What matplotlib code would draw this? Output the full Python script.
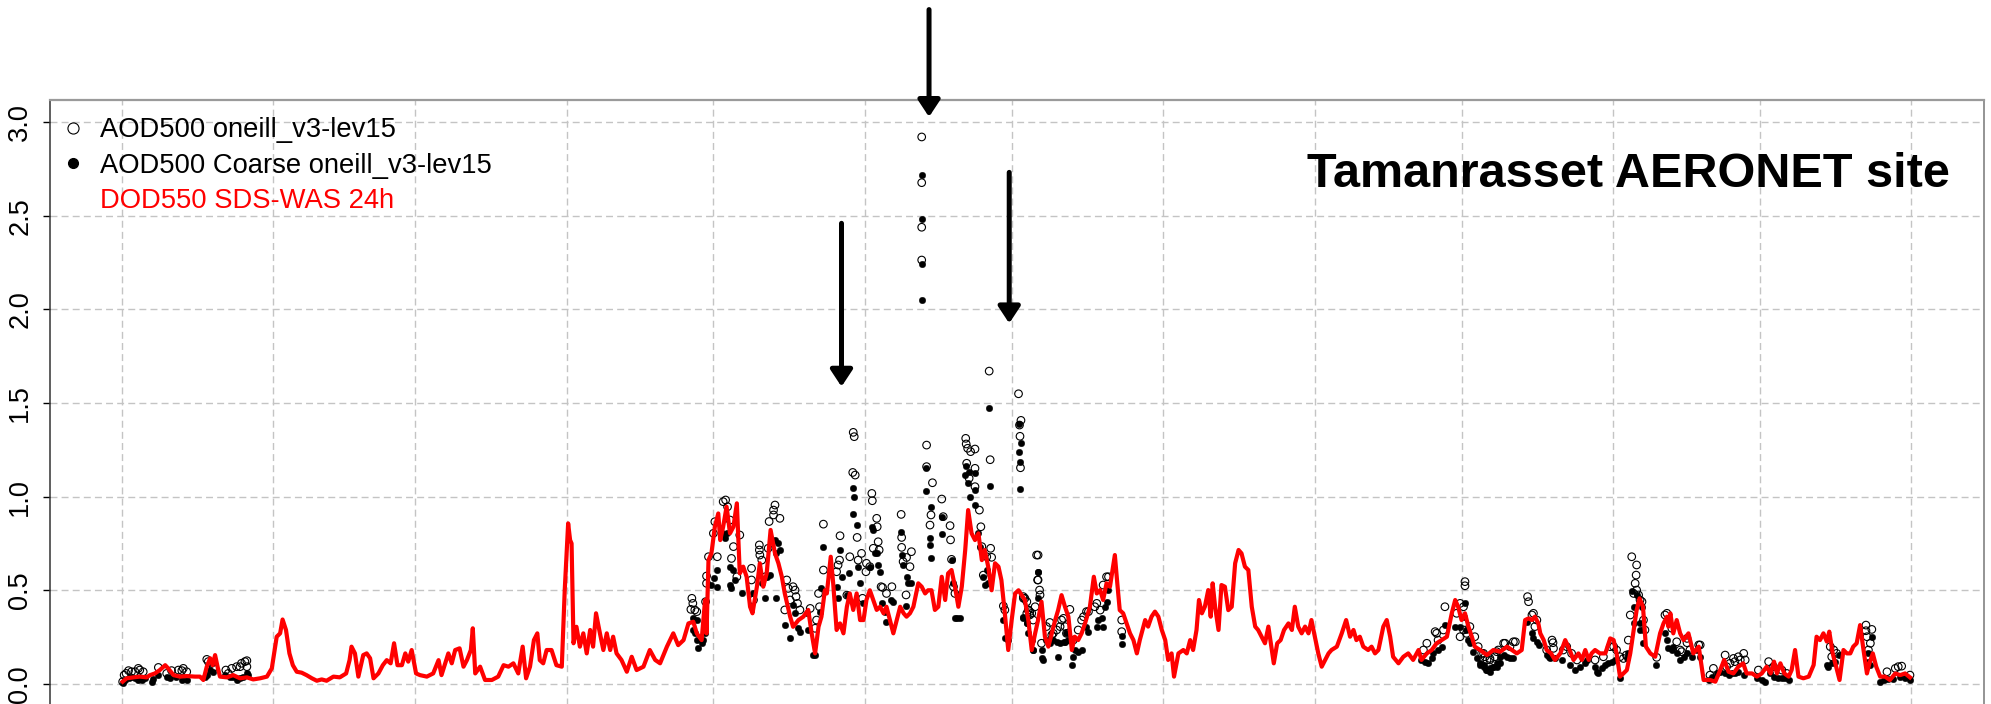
import numpy as np
import pandas as pd
import matplotlib
matplotlib.use("Agg")
import matplotlib.pyplot as plt
import matplotlib.dates as mdates
from matplotlib.lines import Line2D
from matplotlib import font_manager as fm

# ---------------- data (days since 2020-01-01, values) ----------------
dod_day = [0.2,1.0,2.4,3.7,5.1,5.8,6.8,7.8,8.9,9.5,10.6,11.9,13.3,15.0,16.0,16.7,17.4,18.1,18.6,19.1,19.6,20.1,
           21.5,22.8,24.2,25.6,26.9,28.3,29.7,30.7,31.7,32.4,32.9,33.6,34.3,35.0,35.8,36.8,37.8,38.9,39.9,40.9,
           41.9,43.3,44.6,45.9,46.6,47.0,47.7,48.4,49.4,50.1,50.8,51.5,52.5,53.4,54.2,55.0,55.7,56.4,57.3,58.0,
           58.6,59.3,60.2,61.0,62.4,63.7,64.8,65.4,66.8,67.5,68.2,69.1,69.9,70.6,71.4,71.8,72.3,73.3,74.3,75.7,
           77.0,78.1,79.1,80.1,81.1,82.0,82.7,83.5,84.3,85.0,85.5,86.2,86.9,87.9,88.9,90.0,
           90.6,91.3,91.7,92.0,92.4,93.0,93.7,94.4,95.1,95.8,96.4,97.0,97.8,98.5,99.2,99.9,100.5,101.2,102.2,
           103.3,104.3,105.3,106.7,108.0,109.1,110.1,111.5,112.8,113.8,114.9,115.9,116.9,117.6,118.6,119.3,
           119.6,120.0,120.6,121.3,122.0,122.4,123.0,123.7,124.4,125.1,125.8,126.4,127.1,127.8,128.5,129.0,
           129.9,130.5,131.2,131.9,132.7,133.6,134.3,135.0,135.6,136.7,137.3,138.4,139.4,140.4,141.1,141.8,
           142.5,143.1,143.8,144.2,145.0,145.5,146.2,146.9,147.6,148.3,148.9,149.6,150.3,151.0,151.7,152.3,
           153.0,153.7,154.4,155.1,155.8,156.4,157.1,157.8,158.5,159.2,159.9,160.5,161.2,161.9,162.9,163.6,
           164.3,164.9,165.6,166.3,167.0,167.7,168.4,169.0,169.7,170.4,171.1,171.8,172.5,173.1,173.8,174.5,
           175.2,175.9,176.5,177.2,177.9,178.6,179.3,179.9,180.6,181.3,182.0,182.7,183.4,
           184.7,185.4,186.1,186.8,187.4,188.1,188.8,189.5,190.2,190.9,191.5,192.2,192.9,193.6,194.3,194.9,
           195.6,196.3,197.0,198.0,198.8,199.4,200.1,200.7,201.4,202.1,203.1,203.6,204.1,204.8,205.5,206.2,
           206.9,207.6,208.2,209.3,209.9,210.6,211.3,212.0,212.7,213.4,214.0,214.7,215.2,216.1,217.1,217.8,
           218.5,219.1,219.8,220.3,220.9,221.5,222.2,222.7,223.1,223.6,224.3,224.9,225.6,226.3,227.0,227.7,
           228.4,229.0,229.7,230.4,231.1,231.8,232.4,233.1,233.8,234.5,235.2,235.6,236.3,237.0,237.7,238.6,
           239.3,239.9,240.6,241.3,242.0,242.7,243.3,244.0,244.7,245.4,246.1,246.8,247.4,248.5,249.5,250.4,
           251.2,251.9,252.5,253.2,253.9,254.9,255.6,256.3,257.0,258.0,258.7,259.4,260.0,261.1,262.1,263.1,
           264.1,265.2,265.8,266.9,267.9,268.9,269.9,271.0,272.0,272.7,273.3,274.0,274.7,275.4,276.1,276.7,
           277.8,279.2,280.5,281.9,283.3,284.3,285.3,286.3,287.0,287.7,288.4,289.0,289.7,290.1,290.8,291.4,
           292.3,293.1,294.2,295.2,296.1,296.9,297.9,298.6,299.3,300.0,300.6,301.3,302.3,303.4,304.4,305.1,
           305.7,306.4,307.1,307.8,308.5,309.2,309.8,310.4,311.1,311.7,312.6,313.6,314.6,315.3,316.0,316.3,
           316.7,317.3,318.0,318.7,319.4,320.4,321.4,322.5,323.5,324.8,325.9,326.9,327.7,328.6,329.6,330.6,
           331.6,332.3,333.4,334.4,335.4,336.4,337.2,337.9,338.5,339.2,340.0,340.9,341.5,342.2,342.9,343.9,
           345.0,346.0,346.6,347.3,348.0,348.7,349.2,349.9,350.6,351.3,352.1,352.8,353.5,354.1,354.8,355.5,
           356.2,356.9,357.4,358.1,358.8,359.6,360.6,361.6,362.7,363.7,364.7,365.7]
dod_val = [0.012,0.03,0.035,0.039,0.035,0.047,0.056,0.074,0.10,0.083,0.047,0.039,0.042,0.039,0.039,0.021,0.092,
           0.137,0.10,0.154,0.092,0.039,0.035,0.047,0.03,0.035,0.024,0.03,0.039,0.083,0.252,0.27,0.344,0.288,
           0.163,0.10,0.065,0.06,0.047,0.03,0.017,0.024,0.017,0.039,0.035,0.056,0.127,0.199,0.163,0.039,0.154,
           0.163,0.137,0.03,0.056,0.10,0.127,0.11,0.217,0.10,0.10,0.163,0.119,0.181,0.056,0.047,0.039,0.056,
           0.127,0.047,0.163,0.11,0.181,0.19,0.092,0.127,0.181,0.297,0.056,0.092,0.021,0.021,0.039,0.10,0.092,
           0.11,0.056,0.199,0.03,0.092,0.234,0.27,0.127,0.11,0.181,0.181,0.10,0.092,
           0.50,0.857,0.768,0.75,0.217,0.305,0.199,0.27,0.163,0.288,0.199,0.377,0.27,0.181,0.27,0.181,0.252,
           0.163,0.128,0.065,0.145,0.074,0.092,0.181,0.128,0.11,0.199,0.27,0.207,0.234,0.323,0.332,0.27,0.234,
           0.448,0.27,0.661,0.697,0.839,0.91,0.768,0.839,0.946,0.804,0.839,0.964,0.59,0.626,0.572,0.412,0.377,
           0.519,0.644,0.519,0.59,0.822,0.697,0.644,0.572,0.483,0.359,0.305,0.341,0.359,0.395,0.27,0.163,
           0.305,0.359,0.50,0.483,0.679,0.537,0.288,0.323,0.27,0.412,0.483,0.395,0.483,0.341,0.341,0.448,
           0.50,0.448,0.395,0.412,0.377,0.412,0.341,0.27,0.341,0.412,0.377,0.359,0.377,0.412,0.537,0.519,
           0.483,0.50,0.50,0.395,0.412,0.572,0.448,0.59,0.608,0.519,0.412,0.519,0.715,0.928,0.804,0.768,
           0.804,0.661,0.715,0.626,0.50,0.644,0.626,0.554,0.377,0.181,0.341,0.483,0.50,
           0.448,0.341,0.181,0.27,0.341,0.439,0.252,0.199,0.27,0.341,0.394,0.474,0.412,0.359,0.181,0.252,
           0.234,0.27,0.323,0.412,0.572,0.483,0.501,0.448,0.537,0.519,0.688,0.537,0.394,0.377,0.323,0.27,
           0.234,0.163,0.234,0.341,0.306,0.359,0.386,0.359,0.288,0.234,0.128,0.163,0.039,0.163,0.181,0.163,
           0.234,0.181,0.288,0.448,0.377,0.412,0.501,0.359,0.537,0.412,0.288,0.528,0.519,0.394,0.412,0.644,
           0.715,0.697,0.626,0.608,0.412,0.306,0.288,0.252,0.217,0.306,0.181,0.11,0.217,0.234,0.288,0.323,
           0.288,0.412,0.306,0.27,0.306,0.27,0.341,0.252,0.163,0.092,0.128,0.163,0.181,0.199,0.27,0.341,
           0.252,0.288,0.234,0.252,0.199,0.181,0.199,0.163,0.181,0.306,0.341,0.252,0.145,0.11,0.145,0.163,
           0.128,0.181,0.128,0.163,0.181,0.217,0.234,0.252,0.377,0.448,0.412,0.341,0.377,0.306,0.252,0.199,
           0.181,0.154,0.181,0.172,0.199,0.181,0.163,0.181,0.341,0.35,0.341,0.359,0.323,0.27,0.234,0.181,
           0.163,0.128,0.163,0.234,0.181,0.128,0.163,0.128,0.181,0.128,0.163,0.181,0.163,0.163,0.243,0.234,
           0.163,0.039,0.056,0.074,0.163,0.288,0.394,0.457,0.412,0.199,0.163,0.145,0.27,0.323,0.359,0.306,
           0.377,0.27,0.341,0.27,0.234,0.27,0.163,0.199,0.021,0.021,0.012,0.074,0.128,0.065,0.056,0.092,
           0.11,0.056,0.056,0.039,0.056,0.092,0.056,0.119,0.056,0.11,0.056,0.039,0.074,0.181,0.039,0.03,
           0.039,0.101,0.252,0.234,0.27,0.226,0.279,0.163,0.092,0.021,0.181,0.163,0.163,0.199,0.217,0.314,
           0.181,0.056,0.11,0.163,0.092,0.039,0.039,0.021,0.056,0.047,0.056,0.035]

aod_day = [0.2,0.5,0.9,1.4,2.0,2.7,3.4,3.7,4.4,
           7.5,9.2,10.2,11.6,12.3,12.6,13.3,
           17.4,17.7,18.4,18.7,
           21.3,21.8,22.5,23.5,24.2,24.5,25.2,25.6,25.6,
           116.4,116.6,116.8,117.2,117.6,119.4,119.6,119.6,
           120.0,121.0,121.3,121.8,123.0,123.5,123.9,124.4,124.7,125.1,125.8,126.4,
           128.8,128.8,129.2,130.4,130.4,130.5,130.9,131.6,132.2,132.4,133.3,133.3,133.6,134.6,
           135.6,136.0,136.3,136.7,137.3,137.7,137.9,138.2,138.7,140.8,
           141.8,142.1,142.5,142.7,143.5,143.5,
           146.2,146.5,146.8,146.9,148.3,148.9,149.5,150.0,149.6,149.8,150.4,150.6,151.3,151.5,
           152.2,152.3,153.0,153.4,153.5,153.7,154.4,154.5,154.7,154.9,155.3,155.6,156.4,157.5,
           159.4,159.5,159.5,159.8,160.4,160.5,161.2,161.5,
           163.6,163.6,163.6,163.6,
           164.6,164.6,165.3,165.5,165.8,167.7,168.0,169.4,169.5,169.7,170.1,170.4,
           172.6,172.7,173.0,173.6,174.5,172.8,173.3,174.5,174.5,175.4,175.7,175.9,
           176.2,176.9,177.4,177.6,177.7,177.9,
           180.3,180.6,183.4,183.6,183.7,183.8,183.9,184.4,185.1,185.4,185.7,187.1,187.3,
           184.4,184.7,185.1,185.4,185.7,186.1,186.4,186.8,187.4,187.4,187.7,187.8,188.1,
           189.1,189.8,190.2,190.5,191.2,191.9,192.2,192.6,192.9,193.2,193.9,194.6,195.6,
           196.3,196.7,197.3,197.7,199.0,199.4,200.1,200.7,201.4,201.8,
           204.5,204.5,
           266.2,266.9,268.6,268.9,269.2,270.3,270.6,
           273.0,273.7,273.7,274.4,274.4,274.7,274.7,275.0,275.7,
           276.7,277.4,278.1,278.8,279.8,280.8,281.5,
           278.5,279.2,279.8,281.2,282.6,282.9,283.9,284.6,285.0,
           287.5,287.7,288.4,288.7,289.0,289.4,
           291.4,292.5,292.7,292.8,294.8,295.5,296.5,297.6,
           301.3,303.0,304.4,305.1,305.7,306.4,
           307.1,307.7,308.1,308.5,308.8,309.2,309.5,309.7,309.8,309.8,310.2,310.5,310.9,311.2,311.5,313.9,
           315.6,316.0,317.0,318.0,318.7,319.0,320.1,320.1,320.7,322.5,322.8,
           324.8,325.5,327.9,328.2,328.9,329.6,329.9,330.6,331.0,331.7,332.0,
           334.7,336.8,337.8,339.5,340.5,
           349.4,349.7,350.1,350.7,
           356.7,356.7,356.9,357.2,357.6,357.9,
           361.0,362.7,363.3,364.0,365.7]
aod_val = [0.012,0.047,0.056,0.071,0.065,0.065,0.083,0.074,0.065,
           0.088,0.056,0.071,0.074,0.071,0.083,0.065,
           0.131,0.119,0.11,0.083,
           0.074,0.056,0.083,0.092,0.092,0.11,0.119,0.124,0.092,
           0.398,0.457,0.43,0.395,0.386,0.439,0.537,0.576,
           0.679,0.804,0.866,0.679,0.973,0.982,0.946,0.875,0.67,0.733,0.572,0.795,
           0.617,0.555,0.448,0.742,0.715,0.688,0.661,0.572,0.724,0.867,0.928,0.902,0.955,0.884,
           0.395,0.555,0.51,0.448,0.519,0.501,0.466,0.43,0.395,0.403,
           0.297,0.341,0.483,0.412,0.853,0.608,
           0.599,0.635,0.661,0.791,0.474,0.679,1.129,1.115,1.343,1.32,0.782,0.661,0.697,0.457,
           0.599,0.644,0.626,1.017,0.978,0.724,0.884,0.839,0.759,0.715,0.519,0.515,0.483,0.519,
           0.905,0.782,0.729,0.653,0.475,0.675,0.626,0.706,
           2.92,2.676,2.438,2.263,
           1.275,1.16,0.848,0.902,1.074,0.987,0.893,0.845,0.769,0.665,0.519,0.483,
           1.311,1.281,1.258,1.24,1.254,1.178,1.098,1.151,1.053,0.928,0.839,0.733,
           0.581,0.679,1.67,1.197,0.724,0.676,
           0.416,0.395,1.549,1.382,1.322,1.154,1.407,0.457,0.377,0.395,0.368,0.688,0.555,
           0.466,0.457,0.439,0.394,0.386,0.377,0.341,0.412,0.688,0.555,0.501,0.475,0.217,
           0.306,0.328,0.261,0.27,0.288,0.306,0.341,0.35,0.306,0.27,0.398,0.234,0.288,
           0.341,0.359,0.386,0.386,0.412,0.43,0.394,0.528,0.572,0.572,
           0.341,0.279,
           0.181,0.217,0.279,0.27,0.234,0.288,0.412,
           0.377,0.43,0.252,0.412,0.288,0.546,0.524,0.27,0.306,
           0.252,0.199,0.163,0.145,0.128,0.145,0.181,
           0.163,0.128,0.136,0.172,0.217,0.217,0.199,0.225,0.225,
           0.466,0.439,0.368,0.377,0.306,0.341,
           0.181,0.234,0.22,0.19,0.181,0.199,0.163,0.128,
           0.128,0.145,0.199,0.199,0.181,0.145,
           0.136,0.154,0.234,0.368,0.679,0.483,0.537,0.581,0.635,0.501,0.475,0.448,0.439,0.341,0.288,0.142,
           0.368,0.377,0.297,0.225,0.181,0.172,0.243,0.22,0.181,0.208,0.208,
           0.047,0.083,0.154,0.092,0.11,0.136,0.119,0.145,0.128,0.163,0.128,
           0.074,0.119,0.092,0.074,0.056,
           0.199,0.145,0.181,0.163,
           0.314,0.284,0.252,0.181,0.217,0.291,
           0.065,0.083,0.092,0.095,0.047]

coarse_day = [0.2,0.7,1.4,2.0,2.7,3.4,4.1,4.8,
              6.1,6.5,7.5,9.2,9.9,11.2,12.3,13.3,
              17.0,17.4,18.1,18.7,
              21.1,22.2,22.8,23.5,24.2,24.9,25.6,25.9,
              116.8,116.9,117.2,117.6,117.6,117.9,118.6,118.9,119.3,
              120.6,121.1,121.7,121.7,122.7,123.4,123.7,124.4,124.4,124.7,125.1,125.4,126.8,
              129.2,130.9,131.6,131.9,132.6,133.6,133.8,133.9,134.3,134.6,
              135.6,136.7,137.3,137.7,138.4,138.7,140.1,140.4,141.4,
              141.8,142.8,143.1,143.5,
              146.3,146.5,146.9,147.2,148.3,148.8,149.6,149.8,149.5,150.3,150.5,151.0,151.5,
              153.0,153.4,153.7,154.0,154.4,154.7,155.1,155.4,156.1,156.4,157.3,157.8,
              159.3,159.5,159.8,160.4,160.5,160.9,161.5,
              163.6,163.6,163.6,163.6,
              164.4,164.5,165.3,165.4,165.5,165.6,167.8,167.8,169.7,169.9,170.4,170.8,171.4,
              172.5,172.6,173.0,173.3,174.5,174.5,173.5,174.4,175.2,175.5,
              176.2,176.5,176.9,177.2,177.4,177.6,
              180.3,180.6,181.3,183.5,183.6,183.7,183.7,183.9,184.4,185.1,186.4,187.3,
              184.4,185.1,185.4,186.1,186.4,187.4,187.4,188.1,188.1,188.5,
              189.1,189.8,190.5,191.2,191.5,191.9,192.6,192.9,193.2,193.6,194.3,194.6,194.9,195.6,196.3,
              197.3,197.7,199.4,199.7,200.4,200.6,201.1,201.4,201.8,
              204.5,204.5,
              265.8,266.5,267.2,267.9,268.2,269.2,269.9,270.6,
              272.7,273.7,274.4,274.7,275.0,275.4,275.7,
              276.4,277.1,277.8,278.5,279.1,279.8,280.5,281.2,281.9,
              277.8,278.5,279.2,279.8,280.5,281.2,281.9,282.6,283.3,283.9,284.6,
              287.3,288.4,288.7,289.4,289.9,
              291.4,291.8,292.1,293.1,294.5,296.2,297.2,298.3,299.3,299.6,
              301.3,301.7,302.0,302.7,303.4,304.0,304.7,305.4,306.4,
              307.8,308.1,308.8,309.2,309.3,309.8,310.4,310.5,310.9,311.2,313.8,
              315.6,316.0,316.3,317.0,317.3,318.0,318.7,319.4,320.1,321.1,322.1,322.8,
              324.5,325.2,326.2,326.9,327.9,328.6,329.3,330.0,330.6,331.7,
              334.4,335.4,336.1,337.1,337.8,338.8,339.5,340.2,340.9,
              348.7,349.0,349.7,350.4,351.1,
              357.2,357.2,357.6,357.9,
              359.6,360.3,361.3,362.3,363.7,364.7,365.7]
coarse_val = [0.003,0.021,0.03,0.039,0.03,0.021,0.021,0.03,
              0.012,0.024,0.047,0.039,0.03,0.039,0.021,0.021,
              0.039,0.047,0.074,0.065,
              0.047,0.035,0.039,0.021,0.03,0.039,0.056,0.047,
              0.35,0.288,0.27,0.341,0.234,0.19,0.217,0.234,0.27,
              0.528,0.564,0.608,0.519,0.804,0.777,0.804,0.626,0.528,0.51,0.608,0.555,0.483,
              0.483,0.537,0.457,0.572,0.581,0.768,0.697,0.457,0.75,0.715,
              0.314,0.243,0.421,0.377,0.297,0.279,0.377,0.288,0.154,
              0.154,0.386,0.51,0.733,
              0.519,0.457,0.715,0.572,0.474,0.59,1.044,0.996,0.907,0.848,0.626,0.537,0.43,
              0.626,0.839,0.822,0.697,0.697,0.635,0.599,0.43,0.386,0.332,0.448,0.439,
              0.813,0.688,0.635,0.415,0.572,0.537,0.537,
              2.717,2.48,2.24,2.05,
              1.154,1.03,0.741,0.777,0.67,0.942,0.889,0.80,0.662,0.537,0.35,0.35,0.35,
              1.113,1.165,1.074,1.133,1.127,1.035,1.0,0.955,0.804,0.733,
              0.572,0.528,0.608,0.537,1.471,1.056,
              0.341,0.243,0.234,1.387,1.238,1.184,1.04,1.284,0.35,0.323,0.181,0.599,
              0.359,0.323,0.27,0.234,0.181,0.599,0.457,0.181,0.136,0.128,
              0.234,0.217,0.234,0.225,0.145,0.217,0.225,0.225,0.27,0.234,0.101,0.145,0.181,0.172,0.181,
              0.306,0.279,0.306,0.341,0.35,0.306,0.412,0.439,0.501,
              0.256,0.213,
              0.128,0.119,0.11,0.136,0.163,0.181,0.199,0.314,
              0.306,0.306,0.359,0.43,0.288,0.234,0.217,
              0.172,0.136,0.11,0.101,0.074,0.083,0.092,0.092,0.11,
              0.101,0.092,0.074,0.065,0.092,0.11,0.145,0.154,0.145,0.136,0.136,
              0.332,0.27,0.243,0.225,0.208,
              0.154,0.145,0.136,0.136,0.128,0.101,0.074,0.092,0.11,0.128,
              0.092,0.065,0.056,0.083,0.101,0.11,0.119,0.128,0.03,
              0.136,0.163,0.498,0.412,0.323,0.475,0.323,0.288,0.412,0.217,0.101,
              0.27,0.234,0.19,0.181,0.199,0.163,0.128,0.145,0.163,0.145,0.181,0.145,
              0.021,0.039,0.056,0.065,0.056,0.047,0.056,0.056,0.065,0.047,
              0.03,0.021,0.012,0.056,0.039,0.03,0.03,0.03,0.021,
              0.101,0.092,0.11,0.119,0.154,
              0.163,0.119,0.101,0.248,
              0.012,0.021,0.024,0.024,0.039,0.03,0.021]

ytick_vals = [0.0, 0.5, 1.0, 1.5, 2.0, 2.5, 3.0]
legend_labels = ["AOD500 oneill_v3-lev15", "AOD500 Coarse oneill_v3-lev15", "DOD550 SDS-WAS 24h"]
title_text = "Tamanrasset AERONET site"
# arrows: (day, tip value, tail value)
arrow_day = [165.1, 147.2, 181.5]
arrow_tip = [3.027, 1.587, 1.925]
arrow_tail = [3.60, 2.459, 2.731]

# ---------------- plotting ----------------
plt.rcParams['font.family'] = ['Liberation Sans', 'DejaVu Sans']

start = pd.Timestamp('2020-01-01')
def to_dates(days):
    return start + pd.to_timedelta(np.asarray(days, dtype=float), unit='D')

W, H = 1991, 704
fig = plt.figure(figsize=(W / 100, H / 100), dpi=100)
ax = fig.add_axes([50 / W, (704 - 706.4) / H, 1934.3 / W, 606.9 / H])

ax.scatter(to_dates(aod_day), aod_val, s=30, facecolors='none', edgecolors='black',
           linewidths=0.8, zorder=3)
ax.scatter(to_dates(coarse_day), coarse_val, s=22, facecolors='black', edgecolors='black',
           linewidths=0.3, zorder=4)
ax.plot(to_dates(dod_day), dod_val, color='red', lw=3.0, zorder=5, solid_joinstyle='round')

ax.set_xlim(start - pd.Timedelta(days=14.66), start + pd.Timedelta(days=380.9))
ax.set_ylim(-0.12, 3.12)
ax.xaxis.set_major_locator(mdates.MonthLocator())
ax.tick_params(axis='x', which='both', length=0, labelbottom=False)
ax.set_yticks(ytick_vals)
ax.set_yticklabels([f"{v:.1f}" for v in ytick_vals], rotation=90, va='center', fontsize=19.5)
ax.tick_params(axis='y', length=5, width=1, pad=7, direction='out')
ax.grid(True, color='#c4c4c4', linestyle=(0, (5, 3)), lw=1.0, zorder=0)
ax.set_axisbelow(True)

ax.spines['left'].set_color('#333333')
ax.spines['left'].set_linewidth(1.1)
ax.spines['top'].set_color('#9a9a9a')
ax.spines['top'].set_linewidth(1.6)
ax.spines['right'].set_color('#777777')
ax.spines['right'].set_linewidth(1.1)
ax.spines['bottom'].set_visible(False)

handles = [Line2D([0], [0], marker='o', ls='none', mfc='none', mec='black', ms=8, mew=0.8),
           Line2D([0], [0], marker='o', ls='none', mfc='black', mec='black', ms=7),
           Line2D([0], [0], ls='none')]
leg = ax.legend(handles, legend_labels, loc='upper left', bbox_to_anchor=(0, 0.985),
                frameon=False, fontsize=19.7, handlelength=1.0, handletextpad=0.5,
                labelspacing=0.33, borderpad=0.325, borderaxespad=0)
leg.get_texts()[2].set_color('red')

names = {f.name for f in fm.fontManager.ttflist}
if 'Liberation Sans Narrow' in names:
    tfam, tsize = ['Liberation Sans Narrow', 'DejaVu Sans'], 42
else:
    tfam, tsize = ['Liberation Sans', 'DejaVu Sans'], 35
ax.text(0.9823, 0.8558, title_text, transform=ax.transAxes, ha='right', va='baseline',
        fontsize=tsize, fontweight='bold', family=tfam, zorder=6)

for d, tip, tail in zip(arrow_day, arrow_tip, arrow_tail):
    x = start + pd.Timedelta(days=d)
    ax.annotate('', xy=(x, tip), xytext=(x, tail), annotation_clip=False,
                arrowprops=dict(arrowstyle='-|>,head_length=0.5,head_width=0.33', lw=3.6,
                                color='black', shrinkA=0, shrinkB=0, mutation_scale=20))

fig.savefig('out.png', dpi=100)
